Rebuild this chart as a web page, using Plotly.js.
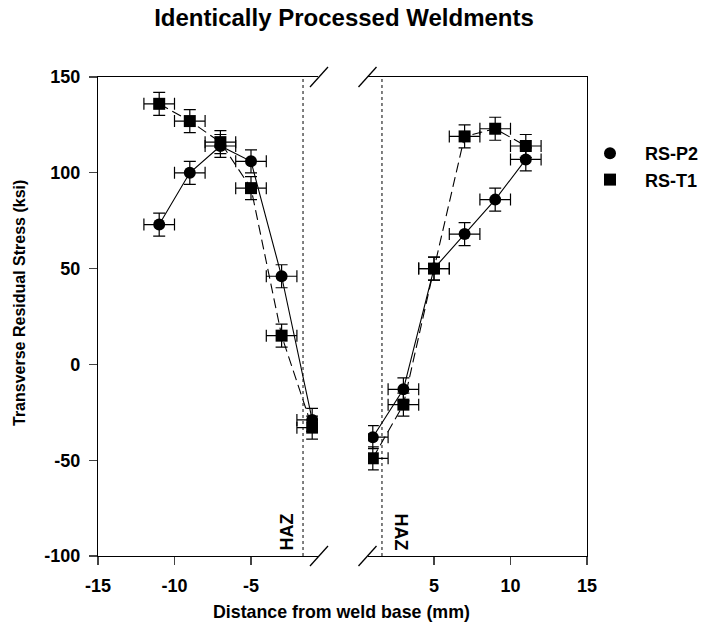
<!DOCTYPE html>
<html>
<head>
<meta charset="utf-8">
<script src="https://cdn.plot.ly/plotly-3.0.1.min.js"></script>
<style>html,body{margin:0;padding:0;background:#fff;}#chart{width:705px;height:634px;}</style>
</head>
<body>
<div id="chart"></div>
<script>
// Data
const leftX   = [-11, -9, -7, -5, -3, -1];
const rightX  = [1, 3, 5, 7, 9, 11];
const p2Left  = [73, 100, 114, 106, 46, -29];
const p2Right = [-38, -13, 50, 68, 86, 107];
const t1Left  = [136, 127, 116, 92, 15, -33];
const t1Right = [-49, -21, 50, 119, 123, 114];
const xErr = 1;
const yErr = 6;
const hazPos = 1.6;
const seriesNames = ['RS-P2', 'RS-T1'];
const leftTicks = [-15, -10, -5];
const leftTickText = ['-15', '-10', '-5'];
const rightTicks = [5, 10, 15];
const rightTickText = ['5', '10', '15'];
const yTicks = [-100, -50, 0, 50, 100, 150];
const yTickText = ['-100', '-50', '0', '50', '100', '150'];

const FONT = 'Liberation Sans, Arial, sans-serif';

function errs(n){ return Array(n).fill(yErr); }
function xerrs(n){ return Array(n).fill(xErr); }

function mk(x, y, symbol, dash, xa){
  return {
    x: x, y: y, type: 'scatter', mode: 'lines+markers',
    showlegend: false, xaxis: xa, yaxis: 'y',
    line: {color: '#000', width: 1.1, dash: dash},
    marker: {symbol: symbol, size: 12, color: '#000'},
    error_y: {type: 'data', array: errs(y.length), visible: true, color: '#000', thickness: 1.2, width: 6},
    error_x: {type: 'data', array: xerrs(x.length), visible: true, color: '#000', thickness: 1.2, width: 6}
  };
}

const traces = [
  mk(leftX, p2Left, 'circle', 'solid', 'x'),
  mk(rightX, p2Right, 'circle', 'solid', 'x2'),
  mk(leftX, t1Left, 'square', '10px,5px', 'x'),
  mk(rightX, t1Right, 'square', '10px,5px', 'x2'),
  {x: [null], y: [null], type: 'scatter', mode: 'markers', name: seriesNames[0], showlegend: true,
    marker: {symbol: 'circle', size: 12, color: '#000'}},
  {x: [null], y: [null], type: 'scatter', mode: 'markers', name: seriesNames[1], showlegend: true,
    marker: {symbol: 'square', size: 12, color: '#000'}},
  // invisible point to activate the right frame axis
  {x: [5], y: [0], xaxis: 'x2', yaxis: 'y2', type: 'scatter', mode: 'markers',
    marker: {opacity: 0}, showlegend: false, hoverinfo: 'skip'}
];

// plot area geometry in px
const L = 98, R = 587, T = 77, B = 556;
const W = R - L, H = B - T;
function px(p){ return (p - L) / W; }
function py(p){ return (B - p) / H; }

function slash(cx, cy){
  return {type: 'line', xref: 'paper', yref: 'paper',
    x0: px(cx - 9), y0: py(cy + 10), x1: px(cx + 9), y1: py(cy - 10),
    line: {color: '#000', width: 1.3}};
}

const shapes = [
  {type: 'line', xref: 'x', yref: 'paper', x0: -hazPos, x1: -hazPos, y0: 0, y1: 1, line: {color: '#000', width: 1, dash: 'dot'}},
  {type: 'line', xref: 'x2', yref: 'paper', x0: hazPos, x1: hazPos, y0: 0, y1: 1, line: {color: '#000', width: 1, dash: 'dot'}},
  slash(319, T), slash(367.5, T), slash(319, B), slash(367.5, B)
];

const tickFont = {family: FONT, size: 18, color: '#000', weight: 'bold'};

const xCommon = {ticks: 'outside', ticklen: 8, tickwidth: 1.2, showline: true, linewidth: 1.2, linecolor: '#000',
  mirror: true, showgrid: false, zeroline: false, tickfont: tickFont, anchor: 'y', ticklabelstandoff: 5};

const layout = {
  width: 705, height: 634,
  margin: {l: L, r: 705 - R, t: T, b: 634 - B, pad: 0, autoexpand: false},
  paper_bgcolor: '#fff', plot_bgcolor: '#fff',
  showlegend: true,
  title: {text: 'Identically Processed Weldments', x: 344 / 705, xanchor: 'center', y: 1 - 18 / 634, yanchor: 'middle',
    font: {family: FONT, size: 24, color: '#000', weight: 'bold'}},
  xaxis: Object.assign({domain: [0, 220 / W], range: [-15, -15 + 220 / 15.3],
    tickvals: leftTicks, ticktext: leftTickText}, xCommon),
  xaxis2: Object.assign({domain: [270 / W, 1], range: [15 - 219 / 15.3, 15],
    tickvals: rightTicks, ticktext: rightTickText}, xCommon),
  yaxis: {range: [-100, 150], tickvals: yTicks, ticktext: yTickText,
    ticks: 'outside', ticklen: 8, tickwidth: 1.2, showline: true, linewidth: 1.2, linecolor: '#000',
    showgrid: false, zeroline: false, tickfont: tickFont, anchor: 'x', ticklabelstandoff: 5},
  yaxis2: {range: [-100, 150], overlaying: 'y', side: 'right', anchor: 'x2',
    showline: true, linewidth: 1.2, linecolor: '#000', ticks: '', showticklabels: false, showgrid: false, zeroline: false},
  legend: {x: (575 - L) / W, y: py(135), xanchor: 'left', yanchor: 'top', bgcolor: 'rgba(0,0,0,0)',
    font: {family: FONT, size: 18, color: '#000', weight: 'bold'}, itemwidth: 60, tracegroupgap: 0},
  annotations: [
    {text: 'Distance from weld base (mm)', xref: 'paper', yref: 'paper', x: px(341), y: py(612), xanchor: 'center', yanchor: 'middle',
      showarrow: false, font: {family: FONT, size: 17.8, color: '#000', weight: 'bold'}},
    {text: 'Transverse Residual Stress (ksi)', xref: 'paper', yref: 'paper', x: px(19), y: py(303), textangle: -90,
      xanchor: 'center', yanchor: 'middle',
      showarrow: false, font: {family: FONT, size: 16, color: '#000', weight: 'bold'}},
    {text: 'HAZ', xref: 'paper', yref: 'paper', x: px(286.5), y: py(532), textangle: -90, xanchor: 'center', yanchor: 'middle',
      showarrow: false, font: {family: FONT, size: 18, color: '#000', weight: 'bold'}},
    {text: 'HAZ', xref: 'paper', yref: 'paper', x: px(400.5), y: py(532), textangle: 90, xanchor: 'center', yanchor: 'middle',
      showarrow: false, font: {family: FONT, size: 18, color: '#000', weight: 'bold'}}
  ],
  shapes: shapes
};

Plotly.newPlot('chart', traces, layout, {displayModeBar: false, staticPlot: true});
</script>
</body>
</html>
